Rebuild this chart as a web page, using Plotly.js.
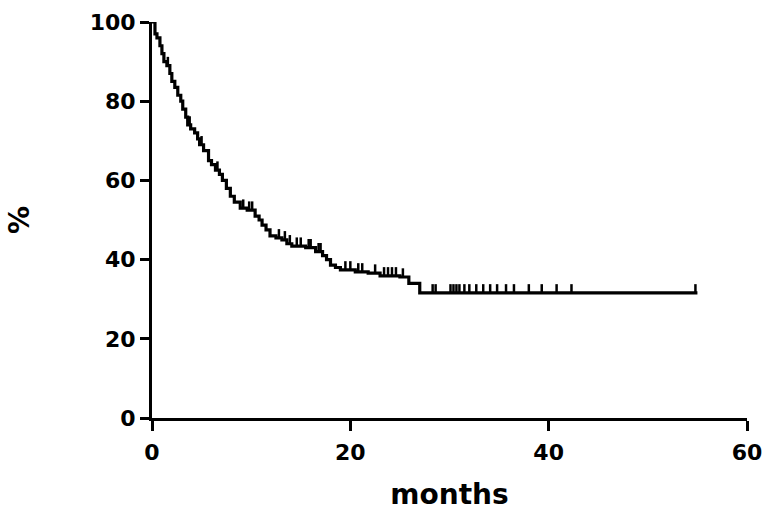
<!DOCTYPE html>
<html>
<head>
<meta charset="utf-8">
<script src="https://cdn.plot.ly/plotly-3.0.1.min.js"></script>
<style>html,body{margin:0;padding:0;background:#fff;}#chart{width:775px;height:517px;}</style>
</head>
<body>
<div id="chart"></div>
<script>
// Kaplan-Meier step points (months, survival %)
const stepTimes = [0, 0.3, 0.5, 0.8, 1.0, 1.2, 1.5, 1.8, 2.0, 2.3, 2.6, 2.9, 3.1, 3.4, 3.6, 3.9, 4.3, 4.6, 4.8, 5.2, 5.7, 6.0, 6.4, 6.8, 7.1, 7.5, 7.9, 8.3, 8.9, 9.6, 10.4, 10.8, 11.1, 11.5, 11.9, 12.5, 13.1, 13.6, 14.1, 15.5, 16.5, 17.2, 17.6, 18.0, 18.5, 19.0, 20.5, 21.8, 23.0, 25.0, 25.9, 27.0, 55.0];
const stepSurv = [100, 97, 96, 94, 92, 90, 89, 87, 85, 83.5, 81.5, 80, 78, 76, 74, 73, 72, 70.5, 69, 67.5, 65, 64, 62.6, 61.5, 60, 58, 56, 54.5, 53, 52.5, 51, 50, 48.7, 47.5, 46, 45.5, 45, 44, 43.4, 43, 42, 41, 40, 38.6, 38, 37.4, 36.9, 36.6, 35.9, 35.6, 34, 31.6, 31.6];
// censoring times (months)
const censorTimes = [1.6, 3.8, 5.0, 6.6, 9.2, 9.8, 10.1, 12.8, 13.4, 13.9, 14.6, 15.0, 15.8, 16.0, 16.8, 17.0, 19.5, 20.0, 20.8, 21.2, 22.5, 23.4, 23.8, 24.2, 24.6, 25.3, 28.3, 28.6, 30.1, 30.4, 30.7, 31.0, 31.5, 32.0, 32.7, 33.4, 34.1, 34.8, 35.7, 36.5, 38.0, 39.3, 40.8, 42.3, 54.8];

function survAt(t) {
  let v = stepSurv[0];
  for (let i = 0; i < stepTimes.length; i++) { if (stepTimes[i] <= t) v = stepSurv[i]; }
  return v;
}
const censorSurv = censorTimes.map(survAt);

const font = 'DejaVu Sans, Arial, sans-serif';
const traces = [
  {x: stepTimes, y: stepSurv, type: 'scatter', mode: 'lines', line: {shape: 'hv', color: '#000', width: 3.2}, cliponaxis: false, hoverinfo: 'skip'},
  {x: censorTimes, y: censorSurv, type: 'scatter', mode: 'markers', marker: {size: 1, color: '#000'}, cliponaxis: false,
   error_y: {type: 'constant', value: 2.2, valueminus: 0, symmetric: false, width: 0, thickness: 2.5, color: '#000'}}
];
const layout = {
  width: 775, height: 517, showlegend: false,
  paper_bgcolor: '#fff', plot_bgcolor: '#fff',
  margin: {l: 152, r: 28, t: 22, b: 99},
  font: {family: font, color: '#000'},
  xaxis: {range: [0, 60], tickvals: [0, 20, 40, 60], showgrid: false, zeroline: false,
    showline: true, linecolor: '#000', linewidth: 3, ticks: 'outside', ticklen: 10, tickwidth: 3, tickcolor: '#000',
    ticklabelstandoff: 3,
    tickfont: {family: font, size: 22, weight: 'bold'},
    title: {text: '<b>months</b>', font: {family: font, size: 28}, standoff: 20}},
  yaxis: {range: [0, 100], tickvals: [0, 20, 40, 60, 80, 100], showgrid: false, zeroline: false,
    showline: true, linecolor: '#000', linewidth: 3, ticks: 'outside', ticklen: 9, tickwidth: 3, tickcolor: '#000',
    ticklabelstandoff: 0,
    tickfont: {family: font, size: 22, weight: 'bold'},
    title: {text: '<b>%</b>', font: {family: font, size: 28}, standoff: 52}}
};
Plotly.newPlot('chart', traces, layout, {staticPlot: true});
</script>
</body>
</html>
